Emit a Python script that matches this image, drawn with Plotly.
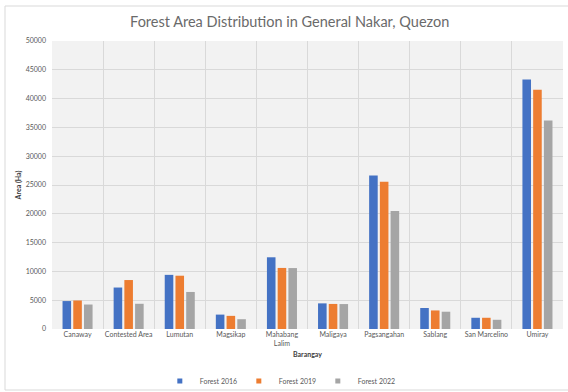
import plotly.graph_objects as go

barangays = ["Canaway", "Contested Area", "Lumutan", "Magsikap", "Mahabang<br>Lalim",
             "Maligaya", "Pagsangahan", "Sablang", "San Marcelino", "Umiray"]
forest_2016 = [4850, 7200, 9400, 2500, 12450, 4450, 26650, 3650, 1950, 43300]
forest_2019 = [4950, 8500, 9250, 2280, 10600, 4350, 25550, 3220, 1950, 41550]
forest_2022 = [4250, 4380, 6430, 1700, 10580, 4330, 20480, 3000, 1600, 36180]

series = [("Forest 2016", forest_2016, "#4472C4"),
          ("Forest 2019", forest_2019, "#ED7D31"),
          ("Forest 2022", forest_2022, "#A5A5A5")]

fig = go.Figure()
for name, vals, col in series:
    fig.add_trace(go.Bar(x=barangays, y=vals, name=name, marker_color=col,
                         marker_line_width=0, legendgroup=name, showlegend=False))
# small square legend keys (legend entries only)
for name, vals, col in series:
    fig.add_trace(go.Scatter(x=[None], y=[None], mode="markers", name=name,
                             legendgroup=name,
                             marker=dict(symbol="square", size=5, color=col)))

W, H = 568, 392
L, R, T, B = 52, 5, 41, 63
pw, ph = W - L - R, H - T - B

def px_x(p):
    return (p - L) / pw

def px_y(p):
    return (H - B - p) / ph

FONT = "Lato, Open Sans, sans-serif"
tick_font = dict(family=FONT, size=7, color="#595959")

fig.update_layout(
    width=W, height=H,
    margin=dict(l=L, r=R, t=T, b=B, autoexpand=False),
    paper_bgcolor="white",
    plot_bgcolor="#f2f2f2",
    barmode="group",
    bargap=0.37,
    bargroupgap=0.2,
    title=dict(text="Forest Area Distribution in General Nakar, Quezon",
               x=0.51, xanchor="center", xref="container",
               y=1 - 22 / H, yanchor="middle", yref="container",
               font=dict(family=FONT, size=14.5, color="#6a6a6a")),
    legend=dict(orientation="h", x=0.49, xanchor="center", xref="container",
                y=1 - 381 / H, yanchor="middle", yref="container",
                font=tick_font, itemwidth=30, tracegroupgap=0,
                entrywidth=34, entrywidthmode="pixels",
                bgcolor="rgba(0,0,0,0)"),
    xaxis=dict(type="category", tickson="boundaries", showgrid=True,
               gridcolor="#d9d9d9", gridwidth=1, ticks="", tickfont=tick_font,
               showline=False, zeroline=False, tickangle=0,
               title=dict(text="<b>Barangay</b>", standoff=6,
                          font=dict(family=FONT, size=7, color="#404040"))),
    yaxis=dict(range=[0, 50000], dtick=5000, tickformat="d", showgrid=True,
               gridcolor="#d9d9d9", gridwidth=1, zeroline=False,
               tickfont=tick_font, ticks="", ticklabelstandoff=5, showline=False,
               title=dict(text="<b>Area (Ha)</b>", standoff=3,
                          font=dict(family=FONT, size=7, color="#404040"))),
    shapes=[dict(type="rect", xref="paper", yref="paper",
                 x0=px_x(5), x1=px_x(575), y0=px_y(390), y1=px_y(6),
                 line=dict(color="#d9d9d9", width=1), fillcolor="rgba(0,0,0,0)",
                 layer="below")],
)

fig.write_html("out.html")
